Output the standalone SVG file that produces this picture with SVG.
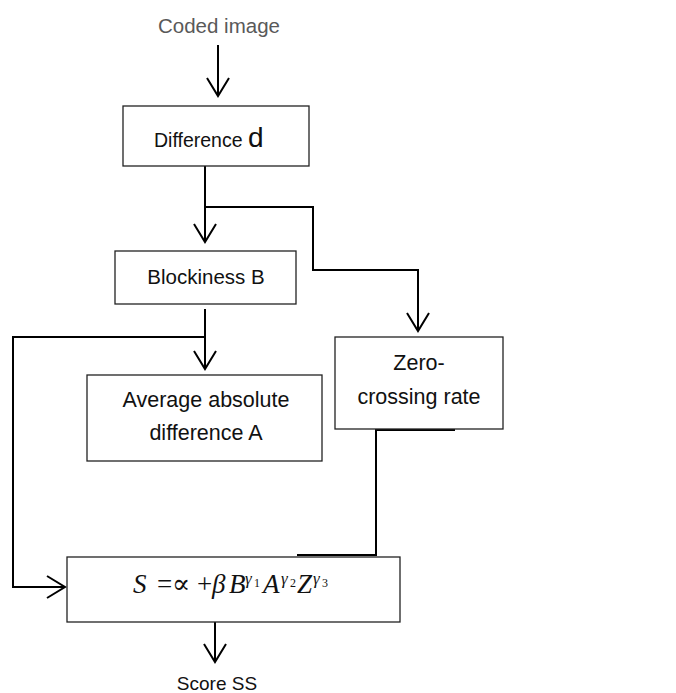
<svg xmlns="http://www.w3.org/2000/svg" width="676" height="693" viewBox="0 0 676 693">
<style>
.box{fill:#fff;stroke:#222;stroke-width:1.3}
.t{font-family:"Liberation Sans",Arial,sans-serif;fill:#111;text-anchor:middle}
.c{fill:none;stroke:#000;stroke-width:2}
.m{font-family:"Liberation Serif","DejaVu Serif",serif;fill:#111}
.i{font-style:italic}
</style>
<defs>
<marker id="arr" markerUnits="userSpaceOnUse" markerWidth="30" markerHeight="30" refX="0" refY="0" orient="auto" overflow="visible">
<path d="M-18,-11 L0,0 L-18,11" fill="none" stroke="#000" stroke-width="2"/>
</marker>
</defs>
<rect width="676" height="693" fill="#fff"/>
<g id="connectors">
<path class="c" d="M218,45 V96" marker-end="url(#arr)"/>
<path class="c" d="M205,166 V242" marker-end="url(#arr)"/>
<path class="c" d="M205,207 H313 V270 H418 V331" marker-end="url(#arr)"/>
<path class="c" d="M205,309 V369" marker-end="url(#arr)"/>
<path class="c" d="M205,337 H13 V587 H65" marker-end="url(#arr)"/>
<path class="c" d="M455,430 H376 V555 H297"/>
<path class="c" d="M215,622 V662" marker-end="url(#arr)"/>
</g>
<g id="coded-image">
<text class="t" x="219" y="33" font-size="20.5" style="fill:#595959">Coded image</text>
</g>
<g id="difference">
<rect class="box" x="123" y="106" width="186" height="60"/>
<text class="t" x="154" y="147" font-size="19.5" style="text-anchor:start">Difference <tspan font-size="28">d</tspan></text>
</g>
<g id="blockiness">
<rect class="box" x="115" y="251" width="181" height="53"/>
<text class="t" x="206" y="284" font-size="20.5">Blockiness B</text>
</g>
<g id="average">
<rect class="box" x="87" y="375" width="235" height="86"/>
<text class="t" x="206" y="407" font-size="21.5">Average absolute</text>
<text class="t" x="206" y="440" font-size="21.5">difference A</text>
</g>
<g id="zero-crossing">
<rect class="box" x="335" y="337" width="168" height="92"/>
<text class="t" x="419" y="370" font-size="21.5">Zero-</text>
<text class="t" x="419" y="404" font-size="21.5">crossing rate</text>
</g>
<g id="formula">
<rect class="box" x="67" y="557" width="333" height="65"/>
<text class="m" y="593" font-size="27"><tspan class="i" x="133">S</tspan><tspan x="157">=</tspan><tspan x="172">∝</tspan><tspan x="197">+</tspan><tspan class="i" x="212">β</tspan><tspan class="i" x="229">B</tspan><tspan class="i" x="245" y="584" font-size="17">γ</tspan><tspan x="254" y="587" font-size="12">1</tspan><tspan class="i" x="263" y="593">A</tspan><tspan class="i" x="281" y="584" font-size="17">γ</tspan><tspan x="290" y="587" font-size="12">2</tspan><tspan class="i" x="297" y="593">Z</tspan><tspan class="i" x="313" y="584" font-size="17">γ</tspan><tspan x="322" y="587" font-size="12">3</tspan></text>
</g>
<g id="score">
<text class="t" x="217" y="690" font-size="19">Score SS</text>
</g>
</svg>
